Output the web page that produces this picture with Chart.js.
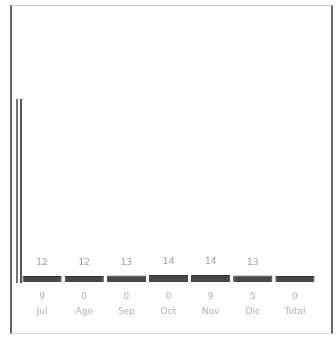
<!DOCTYPE html>
<html>
<head>
<meta charset="utf-8">
<script src="https://cdn.jsdelivr.net/npm/chart.js@4/dist/chart.umd.min.js"></script>
<style>
  html, body { margin: 0; padding: 0; background: #fff; }
  #frame {
    position: absolute; left: 10px; top: 5px; width: 319px; height: 327px;
    border-left: 2px solid #666; border-right: 2px solid #666;
    border-top: 1px solid #c8c8c8; border-bottom: 1px solid #d8d8d8;
  }
  canvas { display: block; }
</style>
</head>
<body>
<div id="frame"><canvas id="c" width="319" height="327"></canvas></div>
<script>
// ---- data ----
const categories = ["Jul", "Ago", "Sep", "Oct", "Nov", "Dic", "Total"];
const secondRow  = ["9", "0", "0", "0", "9", "5", "0"];
const barValues  = [12, 12, 13, 14, 14, 13, 12];
const valueLabels = ["12", "12", "13", "14", "14", "13", ""];
const yMax = 360;

const tickLabels = categories.map((c, i) => [secondRow[i], c]);

const barLabelPlugin = {
  id: 'barLabels',
  afterDatasetsDraw(chart) {
    const ctx = chart.ctx;
    const meta = chart.getDatasetMeta(0);
    ctx.save();
    ctx.font = '9px "DejaVu Sans"';
    ctx.fillStyle = '#a0a0a0';
    ctx.textAlign = 'center';
    ctx.textBaseline = 'middle';
    meta.data.forEach((el, i) => {
      if (valueLabels[i]) ctx.fillText(valueLabels[i], el.x, el.y - 13);
    });
    ctx.restore();
  }
};

new Chart(document.getElementById('c'), {
  type: 'bar',
  data: {
    labels: tickLabels,
    datasets: [{
      data: barValues,
      backgroundColor: '#474747',
      borderColor: '#333',
      borderWidth: 1,
      barPercentage: 0.93,
      categoryPercentage: 1.0
    }]
  },
  options: {
    responsive: false,
    animation: false,
    layout: { padding: { left: 0, right: 15, top: 94, bottom: 4 } },
    plugins: { legend: { display: false }, tooltip: { enabled: false }, title: { display: false } },
    scales: {
      x: {
        grid: { display: false, drawTicks: false },
        border: { display: false },
        ticks: { color: '#b0b0b0', font: { family: 'DejaVu Sans', size: 9, lineHeight: 1.7 }, padding: 7, maxRotation: 0, autoSkip: false },
        afterFit(s) { s.height = 47; }
      },
      y: {
        position: 'left',
        min: 0, max: yMax,
        grid: { display: false, drawTicks: false },
        border: { display: true, color: '#555', width: 2 },
        ticks: { display: false },
        afterFit(s) { s.width = 4; }
      },
      y2: {
        position: 'left',
        min: 0, max: yMax,
        grid: { display: false, drawTicks: false },
        border: { display: true, color: '#777', width: 2 },
        ticks: { display: false },
        afterFit(s) { s.width = 5; }
      }
    }
  },
  plugins: [barLabelPlugin]
});
</script>
</body>
</html>
